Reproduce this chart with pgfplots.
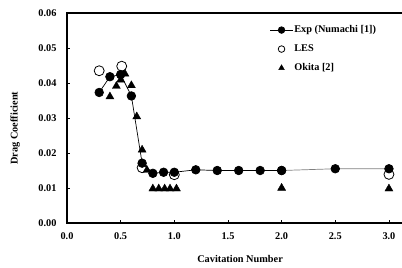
\documentclass[border=0pt]{standalone}
\usepackage{pgfplots}
\pgfplotsset{compat=1.18}
\usepackage{fontspec}
\setmainfont{Liberation Serif}
\begin{document}
\begin{tikzpicture}
\begin{axis}[
  at={(0,0)}, anchor=south west,
  scale only axis, width=343.4pt, height=210pt,
  xmin=0, xmax=3.2, ymin=0, ymax=0.06,
  xtick={0,0.5,1,1.5,2,2.5,3}, ytick={0,0.01,0.02,0.03,0.04,0.05,0.06},
  xtick pos=bottom, ytick pos=left,
  tick align=inside, major tick length=3pt,
  tick style={black, line width=0.6pt},
  axis line style={black, line width=1.3pt},
  /pgf/number format/assume math mode=true,
  ticklabel style={font=\fontsize{10.3}{12}\selectfont\bfseries},
  xticklabel style={/pgf/number format/.cd, fixed, fixed zerofill, precision=1, /tikz/.cd, yshift=-6pt},
  yticklabel style={/pgf/number format/.cd, fixed, fixed zerofill, precision=2, /tikz/.cd, xshift=-7pt},
  scaled y ticks=false,
  xlabel={Cavitation Number},
  ylabel={Drag Coefficient},
  label style={font=\fontsize{10.3}{12}\selectfont\bfseries},
  x label style={at={(axis description cs:0.504,-0.171)}, anchor=center},
  y label style={at={(axis description cs:-0.151,0.452)}, anchor=center, rotate=0},
  legend style={at={(rel axis cs:0.59,0.945)}, anchor=north west, draw=none, fill=none,
    font=\fontsize{10.3}{12}\selectfont\bfseries, row sep=8.5pt, inner sep=0pt,
    nodes={inner sep=1pt},
    /tikz/every even column/.append style={column sep=0pt}},
  legend cell align=left,
  legend image code/.code={\draw[mark repeat=2,mark phase=2,#1, mark size=3.3pt] plot coordinates {(0cm,0cm) (0.4cm,0cm) (0.8cm,0cm)};},
  clip=false,
]
\addplot[black, line width=0.7pt, mark=*, mark size=4.3pt, mark options={solid, fill=black}]
 coordinates {(0.3,0.0373) (0.4,0.0418) (0.5,0.0424) (0.6,0.0363) (0.7,0.0171) (0.8,0.0142) (0.9,0.0145) (1.0,0.0145) (1.2,0.0152) (1.4,0.0150) (1.6,0.0150) (1.8,0.0150) (2.0,0.0150)};
\addlegendentry{Exp (Numachi [1])}
\addplot[only marks, mark=o, mark size=5pt, mark options={black, line width=0.8pt, fill=white}]
 coordinates {(0.3,0.0435) (0.51,0.0448) (0.7,0.0158) (1.0,0.0138) (3.0,0.0139)};
\addlegendentry{LES}
\addplot[only marks, mark=triangle*, mark size=4.6pt, mark options={black, fill=black}]
 coordinates {(0.4,0.0361) (0.46,0.0391) (0.5,0.0409) (0.54,0.0426) (0.6,0.0393) (0.65,0.0304) (0.7,0.0209) (0.745,0.0151) (0.8,0.0098) (0.855,0.0098) (0.91,0.0098) (0.96,0.0098) (1.02,0.0098) (2.0,0.0100) (3.0,0.0098)};
\addlegendentry{Okita [2]}
\addplot[forget plot, gray, line width=0.7pt, mark=*, mark size=4.3pt, mark options={solid, black, fill=black}]
 coordinates {(2.0,0.0150) (2.5,0.0155) (3.0,0.0155)};
\end{axis}
\pgfresetboundingbox
\path[use as bounding box] (-67pt,-45pt) rectangle (335pt,223pt);
\end{tikzpicture}
\end{document}
